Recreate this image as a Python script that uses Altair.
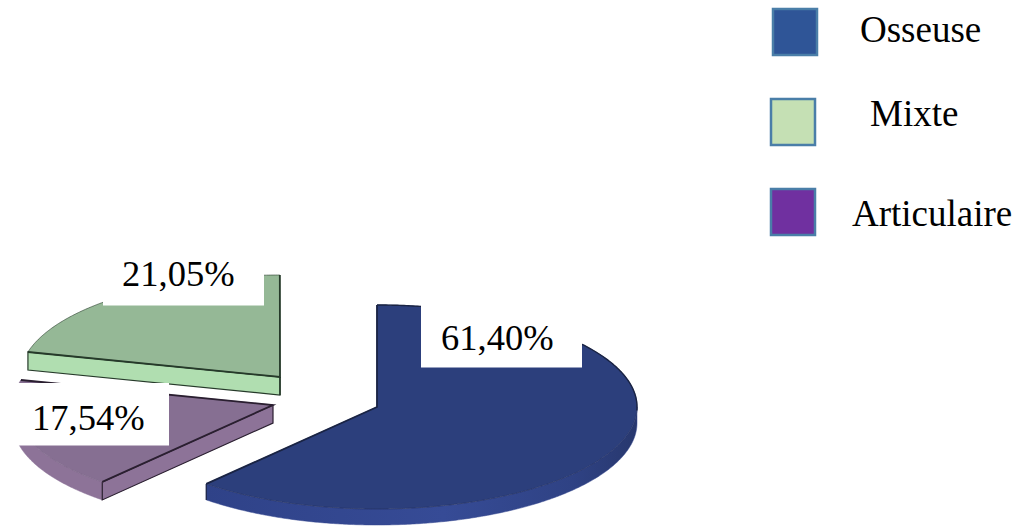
import altair as alt
import numpy as np
import pandas as pd

# Shares of each lesion type, in drawing order around the pie
categories = ["Osseuse", "Articulaire", "Mixte"]
shares = [61.40, 17.54, 21.05]

# Exploded pie layout: slice centres in pixels, ellipse radii, rim depth
centres = {"Osseuse": (377, 407), "Articulaire": (273, 405), "Mixte": (280, 377)}
depths = {"Osseuse": 16, "Articulaire": 18, "Mixte": 18}
RX, RY = 260, 102

top_colours = {"Osseuse": "#2c3f7c", "Articulaire": "#866f92", "Mixte": "#95b896"}
side_colours = {"Osseuse": "#34478f", "Articulaire": "#8d7398", "Mixte": "#b0deb0"}
edge_colours = {"Osseuse": "#1a2444", "Articulaire": "#2a1f30", "Mixte": "#263a2a"}
arc_colours = {"Osseuse": "#232f5c", "Articulaire": "#7b6587", "Mixte": "#263a2a"}

# White boxes behind the percentage labels: x0, x1, y0, y1
label_boxes = {"Mixte": (103, 264, 258, 305.5),
               "Articulaire": (9, 169, 383, 445.5),
               "Osseuse": (421, 582, 298, 367.5)}
label_anchor = {"Mixte": (122, 286), "Articulaire": (32, 430), "Osseuse": (441, 350)}

# Legend entries in reading order
legend_names = ["Osseuse", "Mixte", "Articulaire"]
legend_fills = ["#2f5597", "#c5e0b4", "#7030a0"]
legend_boxes = [(773, 817, 9, 55), (771, 815, 99, 145), (771, 815, 189, 235)]
legend_text_xy = [(860, 42), (870, 126), (852, 226)]

X = alt.X("x:Q", scale=alt.Scale(domain=[0, 1019], range=[0, 1019]), axis=None)
Y = alt.Y("y:Q", scale=alt.Scale(domain=[0, 526], range=[0, 526]), axis=None)


def rim(name, a0, a1, drop=0):
    cx, cy = centres[name]
    angles = np.radians(np.linspace(a0, a1, int(abs(a1 - a0) * 2) + 2))
    return cx + RX * np.sin(angles), cy - RY * np.cos(angles) + drop


def rim_point(name, a):
    cx, cy = centres[name]
    r = np.radians(a)
    return cx + RX * np.sin(r), cy - RY * np.cos(r)


def path_chart(xs, ys, **mark):
    frame = pd.DataFrame({"x": xs, "y": ys, "i": np.arange(len(xs))})
    return alt.Chart(frame).mark_line(**mark).encode(x=X, y=Y, order="i:Q")


def closed(xs, ys):
    return np.append(xs, xs[0]), np.append(ys, ys[0])


spans = {}
start = 0.0
for name, share in zip(categories, shares):
    spans[name] = (start, start + share * 3.6)
    start += share * 3.6

layers = []
for name in ["Mixte", "Articulaire", "Osseuse"]:
    a0, a1 = spans[name]
    cx, cy = centres[name]
    d = depths[name]
    top, side, edge = top_colours[name], side_colours[name], edge_colours[name]
    px0, py0 = rim_point(name, a0)
    px1, py1 = rim_point(name, a1)

    # Rim of the slice: only the part facing the viewer is visible
    v0, v1 = max(a0, 90), min(a1, 270)
    if v1 > v0:
        ux, uy = rim(name, v0, v1)
        lx, ly = rim(name, v1, v0, d)
        fill = side
        if name == "Osseuse":
            fill = {"gradient": "linear", "x1": 0, "x2": 1, "y1": 0, "y2": 0,
                    "stops": [{"offset": 0, "color": "#2f4288"},
                              {"offset": 0.55, "color": "#364b96"},
                              {"offset": 0.85, "color": "#2f4284"},
                              {"offset": 1, "color": "#28386e"}]}
        xs, ys = closed(np.concatenate([ux, lx]), np.concatenate([uy, ly]))
        layers.append(path_chart(xs, ys, fill=fill, stroke=side, strokeWidth=0.5))

    # Cut faces turned towards the viewer
    if name in ("Mixte", "Articulaire"):
        xs, ys = closed(np.array([cx, px0, px0, cx]), np.array([cy, py0, py0 + d, cy + d]))
        layers.append(path_chart(xs, ys, fill=side, stroke=edge, strokeWidth=1.2))
    if name == "Mixte":
        layers.append(path_chart(np.array([cx, cx]), np.array([cy, cy + d]),
                                 stroke=edge, strokeWidth=1.6))
    if name == "Osseuse":
        layers.append(path_chart(np.array([px1, px1]), np.array([py1, py1 + d]),
                                 stroke=edge, strokeWidth=1.2))

    # Top face
    ax, ay = rim(name, a0, a1)
    xs, ys = closed(np.concatenate([[cx], ax]), np.concatenate([[cy], ay]))
    layers.append(path_chart(xs, ys, fill=top, stroke=arc_colours[name], strokeWidth=0.6))

    # Heavier line along the two straight cuts and the back of the arc
    layers.append(path_chart(np.array([px0, cx, px1]), np.array([py0, cy, py1]),
                             stroke=edge, strokeWidth=1.8))
    if name == "Osseuse":
        bx, by = rim(name, 0, 92)
        layers.append(path_chart(bx, by, stroke=edge, strokeWidth=1.4))

# White label boxes and the percentages on top of them
for name, share in zip(categories, shares):
    x0, x1, y0, y1 = label_boxes[name]
    box = pd.DataFrame({"x": [x0], "x2": [x1], "y": [y0], "y2": [y1]})
    layers.append(alt.Chart(box).mark_rect(color="white").encode(x=X, x2="x2:Q", y=Y, y2="y2:Q"))
    tx, ty = label_anchor[name]
    text = pd.DataFrame({"x": [tx], "y": [ty], "t": [f"{share:.2f}%".replace(".", ",")]})
    layers.append(alt.Chart(text).mark_text(font="Liberation Serif", fontSize=36.5, align="left",
                                            baseline="alphabetic", color="black")
                  .encode(x=X, y=Y, text="t:N"))

# Legend
for label, colour, (x0, x1, y0, y1), (tx, ty) in zip(legend_names, legend_fills, legend_boxes, legend_text_xy):
    box = pd.DataFrame({"x": [x0], "x2": [x1], "y": [y0], "y2": [y1]})
    layers.append(alt.Chart(box).mark_rect(fill=colour, stroke="#4a7ea8", strokeWidth=2.5)
                  .encode(x=X, x2="x2:Q", y=Y, y2="y2:Q"))
    text = pd.DataFrame({"x": [tx], "y": [ty], "t": [label]})
    layers.append(alt.Chart(text).mark_text(font="Liberation Serif", fontSize=37, align="left",
                                            baseline="alphabetic", color="black")
                  .encode(x=X, y=Y, text="t:N"))

chart = (alt.layer(*layers)
         .properties(width=1019, height=526, padding=0, background="white")
         .configure_view(stroke=None))

chart.save("out.html", embed_options={"renderer": "svg", "actions": False})
